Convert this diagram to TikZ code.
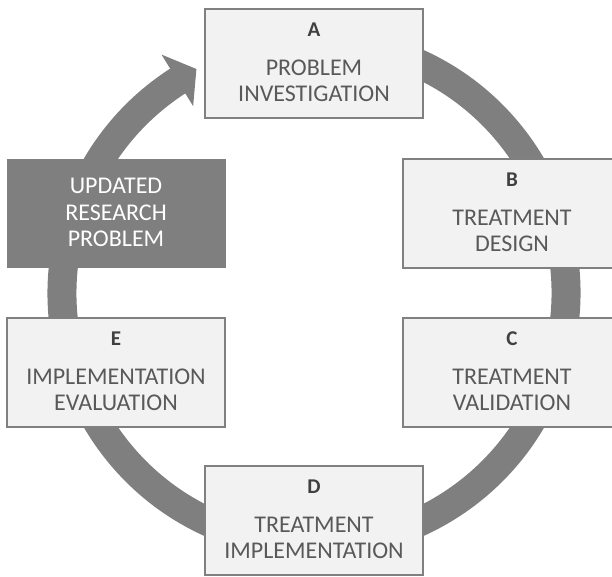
\documentclass[tikz,border=0pt]{standalone}
\usepackage{fontspec}
\setmainfont{Carlito}
\usetikzlibrary{calc}
\definecolor{ringgray}{HTML}{7F7F7F}
\definecolor{boxfill}{HTML}{F2F2F2}
\definecolor{boxline}{HTML}{808080}
\definecolor{headtext}{HTML}{404040}
\definecolor{bodytext}{HTML}{595959}
\begin{document}
\begin{tikzpicture}[x=1pt,y=1pt,
  stage/.style={draw=boxline, line width=2.2pt, fill=boxfill,
    minimum width=218pt, minimum height=109pt, inner sep=0pt},
  updated/.style={fill=ringgray, minimum width=219pt, minimum height=109pt, inner sep=0pt},
  heading/.style={anchor=base, inner sep=0pt, text=headtext,
    font=\fontsize{21}{25}\selectfont\bfseries},
  bodyline/.style={anchor=base, inner sep=0pt, text=bodytext,
    font=\fontsize{24}{26}\selectfont},
  whiteline/.style={anchor=base, inner sep=0pt, text=white,
    font=\fontsize{24}{26}\selectfont},
  ring/.style={draw=ringgray, line width=29pt},
]
\clip (0,0) rectangle (612,576);
\coordinate (O) at (314,283);

% circular arrow running clockwise behind the stages
\draw[ring] ($(O)+(80:252)$) arc[start angle=80, end angle=-238, radius=252];
\fill[ringgray] ($(O)+(122.6:283)$) -- ($(O)+(117.7:253)$) -- ($(O)+(122.9:222.5)$) -- cycle;

% stages
\node[stage] (a) at (314,512.5) {};
\node[heading]  (a-h)  at ($(a.north)+(0,-28.7)$) {A};
\node[bodyline] (a-t1) at ($(a.north)+(0,-68)$) {PROBLEM};
\node[bodyline] (a-t2) at ($(a.north)+(0,-93.5)$) {INVESTIGATION};

\node[stage] (b) at (512,362.5) {};
\node[heading]  (b-h)  at ($(b.north)+(0,-28.7)$) {B};
\node[bodyline] (b-t1) at ($(b.north)+(0,-68)$) {TREATMENT};
\node[bodyline] (b-t2) at ($(b.north)+(0,-93.5)$) {DESIGN};

\node[stage] (c) at (512,203.5) {};
\node[heading]  (c-h)  at ($(c.north)+(0,-28.7)$) {C};
\node[bodyline] (c-t1) at ($(c.north)+(0,-68)$) {TREATMENT};
\node[bodyline] (c-t2) at ($(c.north)+(0,-93.5)$) {VALIDATION};

\node[stage] (d) at (314,55.5) {};
\node[heading]  (d-h)  at ($(d.north)+(0,-28.7)$) {D};
\node[bodyline] (d-t1) at ($(d.north)+(0,-68)$) {TREATMENT};
\node[bodyline] (d-t2) at ($(d.north)+(0,-93.5)$) {IMPLEMENTATION};

\node[stage] (e) at (116,203.5) {};
\node[heading]  (e-h)  at ($(e.north)+(0,-28.7)$) {E};
\node[bodyline] (e-t1) at ($(e.north)+(0,-68)$) {IMPLEMENTATION};
\node[bodyline] (e-t2) at ($(e.north)+(0,-93.5)$) {EVALUATION};

% updated research problem
\node[updated] (u) at (116,362.5) {};
\node[whiteline] (u-t1) at ($(u.north)+(0,-35)$) {UPDATED};
\node[whiteline] (u-t2) at ($(u.north)+(0,-61.3)$) {RESEARCH};
\node[whiteline] (u-t3) at ($(u.north)+(0,-87.6)$) {PROBLEM};
\end{tikzpicture}
\end{document}
